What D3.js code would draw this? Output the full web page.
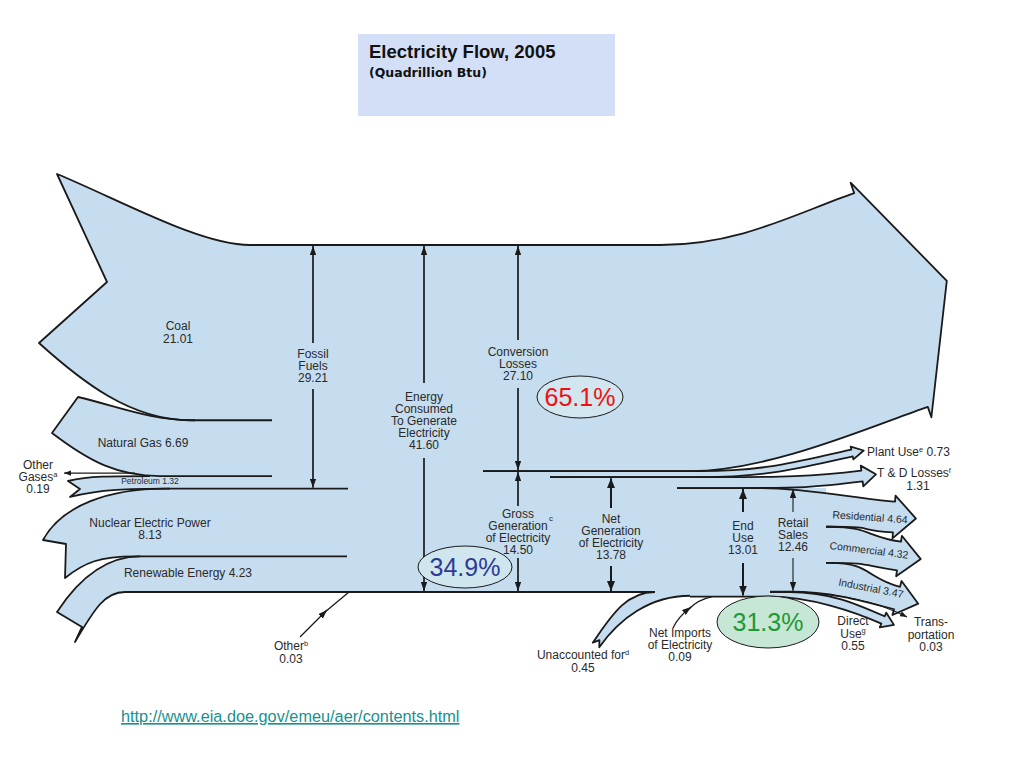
<!DOCTYPE html>
<html>
<head>
<meta charset="utf-8">
<script src="https://cdn.jsdelivr.net/npm/d3@7"></script>
<style>
  body { margin: 0; background: #fff; }
  svg { display: block; font-family: "Liberation Sans", Arial, sans-serif; }
</style>
</head>
<body>
<script>
// Electricity flow 2005, quadrillion Btu
const inputNames = ["Coal", "Natural Gas", "Petroleum", "Other Gases", "Nuclear Electric Power", "Renewable Energy", "Other"];
const inputValues = [21.01, 6.69, 1.32, 0.19, 8.13, 4.23, 0.03];

const outputNames = ["Conversion Losses", "Plant Use", "T & D Losses", "Residential", "Commercial", "Industrial", "Transportation", "Direct Use"];
const outputValues = [27.10, 0.73, 1.31, 4.64, 4.32, 3.47, 0.03, 0.55];

const extraNames = ["Unaccounted for", "Net Imports of Electricity"];
const extraValues = [0.45, 0.09];

const totalNames = ["Fossil Fuels", "Energy Consumed To Generate Electricity", "Conversion Losses", "Gross Generation of Electricity", "Net Generation of Electricity", "End Use", "Retail Sales"];
const totalValues = [29.21, 41.60, 27.10, 14.50, 13.78, 13.01, 12.46];

const shareLabels = ["65.1%", "34.9%", "31.3%"];

const width = 1024;
const height = 768;
const fillBlue = "#c6dcef";
const ink = "#1a1a1a";
const textInk = "#2a2a2a";

// one vertical scale for every band: value stacked from the top edge
const y = d3.scaleLinear()
  .domain([0, d3.sum(inputValues)])
  .range([245, 592]);

const inEnd = Array.from(d3.cumsum(inputValues));
const inStart = inputValues.map((v, i) => inEnd[i] - v);
const outEnd = Array.from(d3.cumsum(outputValues));
const outStart = outputValues.map((v, i) => outEnd[i] - v);
const grand = outEnd[outEnd.length - 1];

const svg = d3.select("body")
  .append("svg")
  .attr("width", width)
  .attr("height", height)
  .attr("viewBox", [0, 0, width, height]);

const defs = svg.append("defs");
function marker(id, len, half) {
  defs.append("marker")
    .attr("id", id)
    .attr("viewBox", `0 ${-half} ${len} ${half * 2}`)
    .attr("refX", len)
    .attr("refY", 0)
    .attr("markerWidth", len)
    .attr("markerHeight", half * 2)
    .attr("markerUnits", "userSpaceOnUse")
    .attr("orient", "auto")
    .append("path")
    .attr("d", `M0,${-half}L${len},0L0,${half}Z`)
    .attr("fill", ink);
}
marker("head", 9, 3.2);
marker("headBold", 10, 4);
marker("headSmall", 7, 2.6);

// title box
svg.append("rect")
  .attr("x", 358).attr("y", 34).attr("width", 257).attr("height", 82)
  .attr("fill", "#d3dff7");
svg.append("text")
  .attr("x", 369).attr("y", 58)
  .attr("font-size", 18.5).attr("font-weight", "bold").attr("fill", "#111")
  .text("Electricity Flow, 2005");
svg.append("text")
  .attr("x", 369).attr("y", 77)
  .attr("font-family", "DejaVu Sans, sans-serif")
  .attr("font-size", 12.5).attr("font-weight", "bold").attr("fill", "#111")
  .text("(Quadrillion Btu)");

const fills = svg.append("g").attr("fill", fillBlue).attr("stroke", "none");
const lines = svg.append("g").attr("fill", "none").attr("stroke", ink)
  .attr("stroke-width", 1.8).attr("stroke-linejoin", "round");

// trunk between the incoming and outgoing bands
const trunk = d3.path();
trunk.moveTo(262, y(0));
trunk.lineTo(690, y(0));
trunk.lineTo(690, y(outStart[3]));
trunk.lineTo(826, y(outStart[3]));
trunk.lineTo(826, y(outEnd[5]));
trunk.lineTo(770, y(outEnd[5]));
trunk.lineTo(770, y(grand));
trunk.lineTo(655, y(grand));
trunk.lineTo(655, y(inEnd[6]));
trunk.lineTo(262, y(inEnd[6]));
trunk.closePath();
fills.append("path").attr("d", trunk.toString());

// incoming bands: swallow tails on the left, flattening into the trunk
const inShapes = [
  { i: 0, to: 0, tail: [[57, 174], [107, 282], [39, 343]], top: { c1: [120, 200], c2x: 200, x: 250, ext: 300 }, bot: { c1: [80, 380], c2x: 130, x: 190, ext: 272 } },
  { i: 1, to: 1, tail: [[78, 397], [52, 433]], top: { c1: [120, 407], c2x: 150, x: 195, ext: 195 }, bot: { c1: [90, 462], c2x: 118, x: 160, ext: 272 } },
  { i: 2, to: 3, tail: [[68, 481], [80, 489], [70, 497]], top: { c1: [90, 476], c2x: 110, x: 150, ext: 150 }, bot: { c1: [100, 489], c2x: 130, x: 170, ext: 170 } },
  { i: 4, to: 4, tail: [[43, 540], [66, 544], [65, 578]], top: { c1: [62, 505], c2x: 110, x: 165, ext: 348 }, bot: { c1: [85, 562], c2x: 100, x: 135, ext: 347 } },
  { i: 5, to: 6, tail: [[57, 612], [82, 627], [75, 642]], top: { c1: [78, 580], c2x: 105, x: 140, ext: 140 }, bot: { c1: [95, 608], c2x: 105, x: 125, ext: 655 } }
];

inShapes.forEach(s => {
  const yT = y(inStart[s.i]);
  const yB = y(inEnd[s.to]);
  const t = s.tail;
  const last = t[t.length - 1];

  const f = d3.path();
  f.moveTo(...t[0]);
  f.bezierCurveTo(...s.top.c1, s.top.c2x, yT, s.top.x, yT);
  f.lineTo(300, yT);
  f.lineTo(300, yB);
  f.lineTo(s.bot.x, yB);
  f.bezierCurveTo(s.bot.c2x, yB, ...s.bot.c1, ...last);
  for (let j = t.length - 2; j > 0; j--) f.lineTo(...t[j]);
  f.closePath();
  fills.append("path").attr("d", f.toString());

  const o = d3.path();
  o.moveTo(s.top.ext, yT);
  o.lineTo(s.top.x, yT);
  o.bezierCurveTo(s.top.c2x, yT, ...s.top.c1, ...t[0]);
  for (let j = 1; j < t.length; j++) o.lineTo(...t[j]);
  o.bezierCurveTo(...s.bot.c1, s.bot.c2x, yB, s.bot.x, yB);
  o.lineTo(s.bot.ext, yB);
  lines.append("path").attr("d", o.toString());
});

// outgoing bands ending in arrow heads
const outShapes = [
  { i: 0, xTop: 250, x1Top: 660, xBot: 483, x1Bot: 690, c: [891, 300], angle: -19, head: 59, barb: 11, k0: 80, k: 60 },
  { i: 1, xTop: 483, x1Top: 700, xBot: 550, x1Bot: 700, c: [852, 453], angle: -12, head: 12, barb: 3, k0: 70, k: 50, minW: 7 },
  { i: 2, xTop: 550, x1Top: 720, xBot: 677, x1Bot: 740, c: [862, 476], angle: -7, head: 14, barb: 5, k0: 60, k: 50 },
  { i: 3, xTop: 677, x1Top: 760, xBot: 826, x1Bot: 830, c: [894, 517], angle: 4, head: 22, barb: 6, k0: 50, k: 40, ws: 0.8 },
  { i: 4, xTop: 826, x1Top: 830, xBot: 826, x1Bot: 830, c: [899, 556], angle: 8, head: 22, barb: 6, k0: 40, k: 35, ws: 0.8 },
  { i: 5, xTop: 826, x1Top: 830, xBot: 770, x1Bot: 790, c: [897, 598], angle: 15, head: 22, barb: 6, k0: 40, k: 35, ws: 0.8 },
  { i: 7, xTop: 770, x1Top: 790, xBot: 690, x1Bot: 770, c: [883, 620], angle: 24, head: 12, barb: 4, k0: 40, k: 30, minW: 8 }
];

function outPath(s, closed) {
  const yT = y(outStart[s.i]);
  const yB = y(outEnd[s.i]);
  const w = Math.max((yB - yT) * (s.ws || 1), s.minW || 0);
  const a = s.angle * Math.PI / 180;
  const d = [Math.cos(a), Math.sin(a)];
  const n = [-Math.sin(a), Math.cos(a)];
  const [cx, cy] = s.c;
  const et = [cx - n[0] * w / 2, cy - n[1] * w / 2];
  const eb = [cx + n[0] * w / 2, cy + n[1] * w / 2];
  const bt = [et[0] - n[0] * s.barb, et[1] - n[1] * s.barb];
  const bb = [eb[0] + n[0] * s.barb, eb[1] + n[1] * s.barb];
  const tip = [cx + d[0] * s.head, cy + d[1] * s.head];
  const p = d3.path();
  p.moveTo(s.xTop, yT);
  p.lineTo(s.x1Top, yT);
  p.bezierCurveTo(s.x1Top + s.k0, yT, et[0] - d[0] * s.k, et[1] - d[1] * s.k, ...et);
  p.lineTo(...bt);
  p.lineTo(...tip);
  p.lineTo(...bb);
  p.lineTo(...eb);
  p.bezierCurveTo(eb[0] - d[0] * s.k, eb[1] - d[1] * s.k, s.x1Bot + s.k0, yB, s.x1Bot, yB);
  p.lineTo(s.xBot, yB);
  if (closed) p.closePath();
  return p.toString();
}

outShapes.forEach(s => {
  fills.append("path").attr("d", outPath(s, true));
  lines.append("path").attr("d", outPath(s, false));
});

// unaccounted-for electricity enters from below
{
  const yT = y(d3.sum(inputValues));
  const yB = y(d3.sum(inputValues) + extraValues[0]);
  const w = Math.max(yB - yT, 8);
  const a = -55 * Math.PI / 180;
  const d = [Math.cos(a), Math.sin(a)];
  const n = [-Math.sin(a), Math.cos(a)];
  const t0 = [596, 645];
  const l0 = [t0[0] - n[0] * w / 2, t0[1] - n[1] * w / 2];
  const r0 = [t0[0] + n[0] * w / 2, t0[1] + n[1] * w / 2];
  const notch = [t0[0] + d[0] * 6, t0[1] + d[1] * 6];

  const f = d3.path();
  f.moveTo(...l0);
  f.bezierCurveTo(l0[0] + d[0] * 30, l0[1] + d[1] * 30, 625, yT, 655, yT);
  f.lineTo(690, yT);
  f.lineTo(690, yB);
  f.bezierCurveTo(650, yB, r0[0] + d[0] * 35, r0[1] + d[1] * 35, ...r0);
  f.lineTo(...notch);
  f.closePath();
  fills.append("path").attr("d", f.toString());

  const o = d3.path();
  o.moveTo(655, yT);
  o.bezierCurveTo(625, yT, l0[0] + d[0] * 30, l0[1] + d[1] * 30, ...l0);
  o.lineTo(...notch);
  o.lineTo(...r0);
  o.bezierCurveTo(r0[0] + d[0] * 35, r0[1] + d[1] * 35, 650, yB, 690, yB);
  lines.append("path").attr("d", o.toString());
}

// thin flows drawn as single arrows
const thin = svg.append("g").attr("fill", "none").attr("stroke", ink).attr("stroke-width", 1.3);
// other gases leave to the left
thin.append("path")
  .attr("d", `M135,${y(inStart[2]) - 3}L64,${y(inStart[2]) - 3}`)
  .attr("marker-end", "url(#headSmall)");
// other (0.03) enters at the bottom
thin.append("path").attr("d", "M300,637L327,610").attr("marker-end", "url(#head)");
thin.append("path").attr("d", `M325,612L349,${y(inEnd[6])}`);
// net imports enter at the bottom
thin.append("path").attr("d", "M673,628Q678,617 691,607").attr("marker-end", "url(#head)");
thin.append("path").attr("d", `M689,609Q697,600 712,${y(grand)}`);
// transportation
thin.append("path")
  .attr("d", `M790,${y(outEnd[6])}C840,${y(outEnd[6]) + 1} 880,603 907,617`)
  .attr("stroke-width", 1.1)
  .attr("marker-end", "url(#headSmall)");

// text helper: rows are strings or [text, superscript, trailing text]
function addLabel(x, yc, rows, opts = {}) {
  const size = opts.size || 12;
  const lh = opts.lh || 12.5;
  const lift = size * 0.38;
  const t = svg.append("text")
    .attr("text-anchor", opts.anchor || "middle")
    .attr("font-size", size)
    .attr("fill", opts.fill || textInk)
    .attr("transform", `translate(${x},${yc}) rotate(${opts.rotate || 0})`);
  rows.forEach((r, j) => {
    const [s, sup, after] = Array.isArray(r) ? r : [r, null, null];
    t.append("tspan").attr("x", 0).attr("y", j * lh + size * 0.36).text(s);
    if (sup) {
      t.append("tspan").attr("dy", -lift).attr("font-size", size * 0.62).text(sup);
      if (after) t.append("tspan").attr("dy", lift).text(after);
    }
  });
  return t;
}

// vertical measure arrows
const vArrows = [
  { x: 313, from: 0, to: inEnd[3], gap: [343, 389], rows: ["Fossil", "Fuels", totalValues[0].toFixed(2)] },
  { x: 424, from: 0, to: inEnd[6], gap: [383, 458], rows: ["Energy", "Consumed", "To Generate", "Electricity", totalValues[1].toFixed(2)] },
  { x: 518, from: 0, to: outEnd[0], gap: [340, 388], rows: ["Conversion", "Losses", totalValues[2].toFixed(2)] },
  { x: 518, from: outEnd[0], to: outEnd[0] + totalValues[3], gap: [506, 558], rows: ["Gross", "Generation", "of Electricity", totalValues[3].toFixed(2)] },
  { x: 611, from: outEnd[1], to: outEnd[1] + totalValues[4], gap: [508, 566], rows: ["Net", "Generation", "of Electricity", totalValues[4].toFixed(2)], bold: true },
  { x: 743, from: outEnd[2], to: outEnd[2] + totalValues[5], gap: [512, 563], rows: ["End", "Use", totalValues[5].toFixed(2)], bold: true },
  { x: 793, from: outEnd[2], to: outEnd[2] + totalValues[6], gap: [512, 558], rows: ["Retail", "Sales", totalValues[6].toFixed(2)], thinLine: true }
];

const va = svg.append("g").attr("stroke", ink).attr("fill", "none");
vArrows.forEach(v => {
  const mk = v.bold ? "url(#headBold)" : "url(#head)";
  const sw = v.thinLine ? 1.1 : (v.bold ? 2 : 1.7);
  va.append("line")
    .attr("x1", v.x).attr("x2", v.x)
    .attr("y1", v.gap[0]).attr("y2", y(v.from) + 1)
    .attr("stroke-width", sw)
    .attr("marker-end", mk);
  va.append("line")
    .attr("x1", v.x).attr("x2", v.x)
    .attr("y1", v.gap[1]).attr("y2", y(v.to) - 1)
    .attr("stroke-width", sw)
    .attr("marker-end", mk);
  const lh = 12;
  const mid = (v.gap[0] + v.gap[1]) / 2 - (v.rows.length - 1) * lh / 2;
  addLabel(v.x, mid, v.rows, { lh });
});
addLabel(551, 518, ["c"], { size: 8 });

// left labels
addLabel(178, 326, [inputNames[0], inputValues[0].toFixed(2)], { lh: 13 });
addLabel(143, 443, [`${inputNames[1]} ${inputValues[1]}`]);
addLabel(38, 465, ["Other", ["Gases", "a"], inputValues[3].toFixed(2)], { lh: 12 });
addLabel(150, 481, [`${inputNames[2]} ${inputValues[2]}`], { size: 8.5 });
addLabel(150, 523, [inputNames[4], inputValues[4].toFixed(2)], { lh: 12 });
addLabel(188, 573, [`${inputNames[5]} ${inputValues[5]}`]);
addLabel(291, 646, [["Other", "b"], inputValues[6].toFixed(2)], { lh: 13 });

// right labels
addLabel(867, 452, [[outputNames[1], "e", ` ${outputValues[1].toFixed(2)}`]], { anchor: "start" });
addLabel(877, 473, [[outputNames[2], "f"]], { anchor: "start" });
addLabel(918, 486, [outputValues[2].toFixed(2)]);
addLabel(870, 517, [`${outputNames[3]} ${outputValues[3]}`], { size: 10.5, rotate: 4 });
addLabel(869, 550, [`${outputNames[4]} ${outputValues[4]}`], { size: 10.5, rotate: 7 });
addLabel(871, 588, [`${outputNames[5]} ${outputValues[5]}`], { size: 10.5, rotate: 11 });
addLabel(853, 621, ["Direct", ["Use", "g"], outputValues[7].toFixed(2)], { lh: 12.5 });
addLabel(931, 622, ["Trans-", "portation", outputValues[6].toFixed(2)], { lh: 12.5 });

// bottom labels
addLabel(583, 655, [[extraNames[0], "d"], extraValues[0].toFixed(2)], { lh: 13 });
addLabel(680, 633, ["Net Imports", "of Electricity", extraValues[1].toFixed(2)], { lh: 12 });

// efficiency call-outs
const shares = [
  { label: shareLabels[0], cx: 580, cy: 397, rx: 43, ry: 21, fill: "#d1e6ee", color: "#ee1111" },
  { label: shareLabels[1], cx: 465, cy: 567, rx: 47, ry: 21, fill: "#cfe6ee", color: "#2e3a96" },
  { label: shareLabels[2], cx: 768, cy: 622, rx: 51, ry: 26, fill: "#c6e6d6", color: "#1c9a34" }
];
const sg = svg.append("g");
sg.selectAll("ellipse")
  .data(shares)
  .join("ellipse")
  .attr("cx", d => d.cx).attr("cy", d => d.cy)
  .attr("rx", d => d.rx).attr("ry", d => d.ry)
  .attr("fill", d => d.fill)
  .attr("stroke", ink).attr("stroke-width", 1);
sg.selectAll("text")
  .data(shares)
  .join("text")
  .attr("x", d => d.cx).attr("y", d => d.cy + 9)
  .attr("text-anchor", "middle")
  .attr("font-size", 25)
  .attr("fill", d => d.color)
  .text(d => d.label);

// source link
svg.append("text")
  .attr("x", 121).attr("y", 722)
  .attr("font-size", 16.3)
  .attr("fill", "#17918c")
  .attr("text-decoration", "underline")
  .text("http://www.eia.doe.gov/emeu/aer/contents.html");
</script>
</body>
</html>
